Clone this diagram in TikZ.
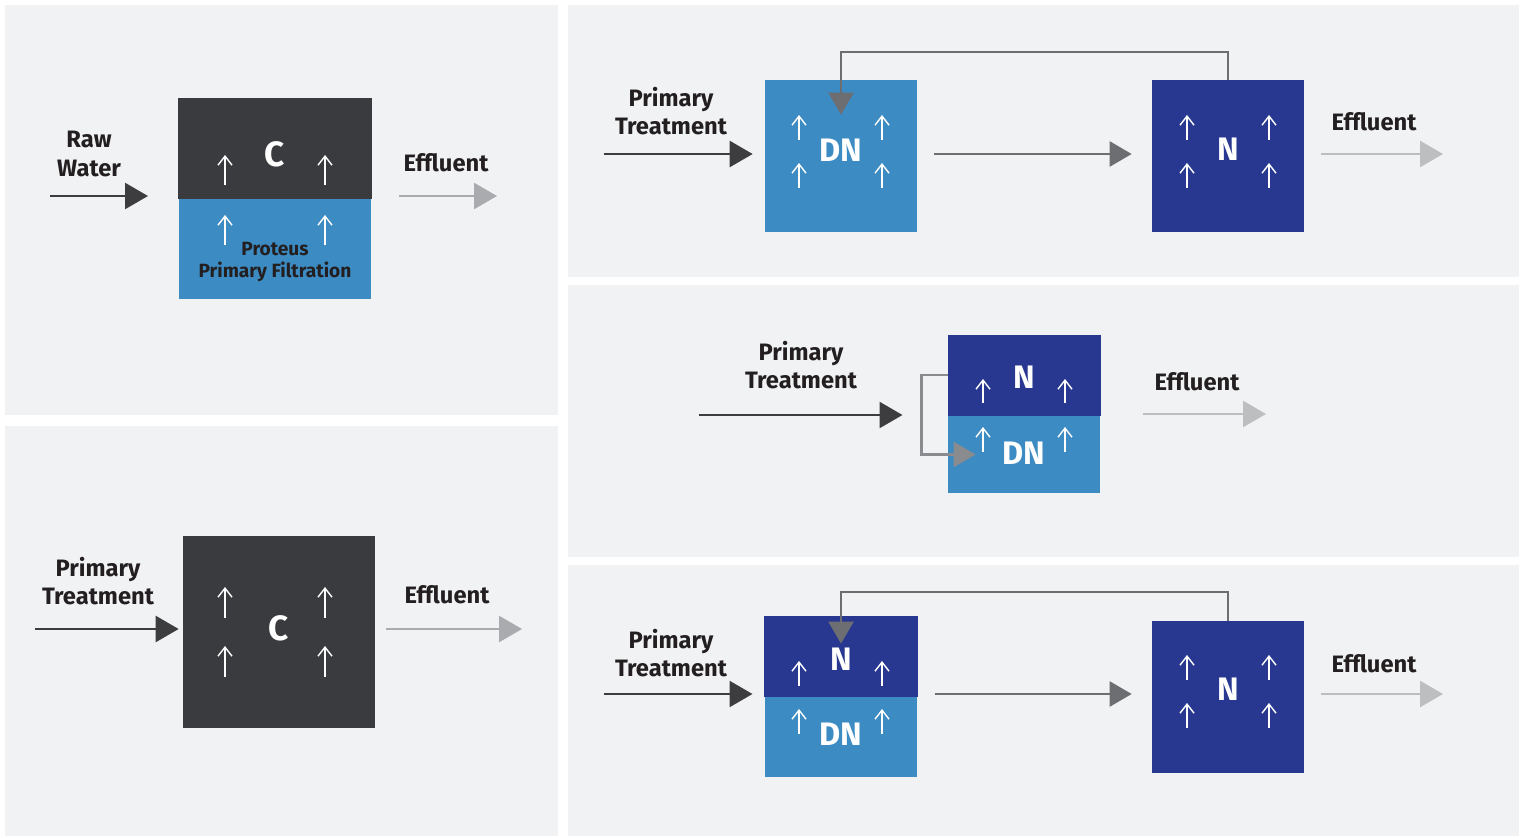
\documentclass[tikz,border=0pt]{standalone}
\usepackage{fontspec}
\setmainfont{Fira Sans}
\usepackage{xcolor}
\usetikzlibrary{arrows.meta, positioning, calc}

\definecolor{panelgray}{HTML}{F1F2F4}
\definecolor{carbon}{HTML}{3A3B3E}
\definecolor{steelblue}{HTML}{3C8BC3}
\definecolor{navyblue}{HTML}{283890}
\definecolor{inkgray}{HTML}{3D3D3F}
\definecolor{midgray}{HTML}{6D6E71}
\definecolor{softgray}{HTML}{8A8B8E}
\definecolor{palegray}{HTML}{BCBEC0}
\definecolor{ashgray}{HTML}{A9ABAE}
\definecolor{textblack}{HTML}{231F20}

\begin{document}
\begin{tikzpicture}[
                x=0.02cm, y=-0.02cm,
                panel/.style={fill=panelgray},
                tank/.style={rectangle, inner sep=0pt, minimum width=3.04cm, minimum height=3.04cm},
                halftank/.style={rectangle, inner sep=0pt, minimum width=3.04cm},
                seam/.style={fill=#1, draw=#1, line width=0.6pt},
                tag/.style={text=white, font=\fontsize{18.5}{20}\selectfont\bfseries},
                caption/.style={align=center, text=textblack, font=\fontsize{13.5}{16}\selectfont\bfseries},
                feed/.style={draw=inkgray, line width=1.4pt, -{Triangle[length=4.6mm, width=5.2mm]}},
                transfer/.style={draw=midgray, line width=1.4pt, -{Triangle[length=4.4mm, width=5mm]}},
                recycle/.style={draw=midgray, line width=1.3pt, -{Triangle[length=4.4mm, width=5mm]}},
                outlet/.style={draw=palegray, line width=1.4pt, -{Triangle[length=4.6mm, width=5.2mm]}},
                riser/.style={draw=white, line width=0.8pt, -{Straight Barb[length=1.8mm, width=2.8mm]}}
            ]
                \useasboundingbox (0,0) rectangle (1524,838);

                % Panels
                \fill[panel] (5,5) rectangle (558,415);
                \fill[panel] (5,426) rectangle (558,836);
                \fill[panel] (568,5) rectangle (1519,277);
                \fill[panel] (568,285) rectangle (1519,557);
                \fill[panel] (568,565) rectangle (1519,836);

                % Nodes: carbon with primary filtration
                \node[halftank, fill=steelblue, minimum width=3.84cm, minimum height=2cm] (pf) at (275,249) {};
                \node[halftank, seam=carbon, minimum width=3.84cm, minimum height=2cm, above=0pt of pf] (ca) {};
                \node[tag, font=\fontsize{20}{22}\selectfont\bfseries] (ca-txt) at (275,154) {C};
                \node[align=center, text=textblack, font=\fontsize{10.9}{13}\selectfont\bfseries] (pf-txt) at (275,262) {Proteus\\Primary Filtration};
                \node[caption] (raw) at (89,154) {Raw\\Water};
                \node[caption] (eff1) at (446,163) {Effluent};
                \coordinate (raw-in) at (50,196);
                \coordinate (raw-end) at (148,196);
                \coordinate (eff1-in) at (399,196);
                \coordinate (eff1-end) at (497,196);

                % Nodes: carbon only
                \node[tank, fill=carbon, minimum width=3.84cm, minimum height=3.84cm] (cb) at (279,632) {};
                \node[tag, font=\fontsize{20}{22}\selectfont\bfseries] (cb-txt) at (279,628) {C};
                \node[caption] (pt2) at (98,581) {Primary\\Treatment};
                \node[caption] (eff2) at (447,595) {Effluent};
                \coordinate (pt2-in) at (35,629);
                \coordinate (eff2-end) at (522,629);

                % Nodes: DN then N with recycle
                \node[tank, fill=steelblue] (dn1) at (841,156) {};
                \node[tank, fill=navyblue] (n1) at (1228,156) {};
                \node[tag] (dn1-txt) at (841,150) {DN};
                \node[tag] (n1-txt) at (1228,149) {N};
                \node[caption] (pt1) at (671,111) {Primary\\Treatment};
                \node[caption] (eff3) at (1374,122) {Effluent};
                \coordinate (pt1-in) at (604,154);
                \coordinate (eff3-end) at (1443,154);

                % Nodes: stacked N over DN
                \node[halftank, fill=steelblue, minimum height=1.54cm] (dnm) at (1024,454.5) {};
                \node[halftank, seam=navyblue, minimum height=1.6cm, above=0pt of dnm] (nm) {};
                \node[tag] (nm-txt) at (1024,377) {N};
                \node[tag] (dnm-txt) at (1024,453) {DN};
                \node[caption] (pt3) at (801,365) {Primary\\Treatment};
                \node[caption] (eff4) at (1197,382) {Effluent};
                \coordinate (pt3-in) at (699,415);
                \coordinate (eff4-in) at (1143,414);
                \coordinate (eff4-end) at (1266,414);

                % Nodes: stacked N over DN, then N with recycle
                \node[halftank, fill=steelblue, minimum height=1.6cm] (dnb) at (841,737) {};
                \node[halftank, seam=navyblue, minimum height=1.6cm, above=0pt of dnb] (nb) {};
                \node[tank, fill=navyblue] (n2) at (1228,697) {};
                \node[tag] (nb-txt) at (841,659) {N};
                \node[tag] (dnb-txt) at (841,734) {DN};
                \node[tag] (n2-txt) at (1228,689) {N};
                \node[caption] (pt4) at (671,653) {Primary\\Treatment};
                \node[caption] (eff5) at (1374,664) {Effluent};
                \coordinate (pt4-in) at (604,694);
                \coordinate (eff5-end) at (1443,694);

                % Risers
                \foreach \x/\y/\l in {225/185/30, 325/185/30, 225/245/30, 325/245/30,
                                      225/618/31, 325/618/31, 225/677/31, 325/677/31,
                                      799/140/25, 882/140/25, 799/188/25, 882/188/25,
                                      1187/140/25, 1269/140/25, 1187/188/25, 1269/188/25,
                                      983/403/24, 1065/403/24, 983/452/25, 1065/452/25,
                                      799/686/25, 882/686/25, 799/734/25, 882/734/25,
                                      1187/680/25, 1269/680/25, 1187/728/25, 1269/728/25}
                    \draw[riser] (\x,\y) -- ++(0,-\l);

                % Edges
                \draw[feed] (raw-in) -- (raw-end);
                \draw[outlet, draw=ashgray] (eff1-in) -- (eff1-end);

                \draw[feed, shorten >=0.08cm] (pt2-in) -- (pt2-in -| cb.west);
                \draw[outlet, draw=ashgray, shorten <=0.22cm] (eff2-end -| cb.east) -- (eff2-end);

                \draw[feed, shorten >=0.24cm] (pt1-in) -- (pt1-in -| dn1.west);
                \draw[transfer, shorten <=0.34cm, shorten >=0.4cm] (pt1-in -| dn1.east) -- (pt1-in -| n1.west);
                \draw[recycle] (n1.north) -- ++(0,-28) -| ($(dn1.north)+(0,35)$);
                \draw[outlet, shorten <=0.34cm] (eff3-end -| n1.east) -- (eff3-end);

                \draw[feed, shorten >=0.9cm] (pt3-in) -- (pt3-in -| nm.west);
                \draw[recycle, draw=softgray] (nm.west) -- ++(-26,0) |- ($(dnm.west)+(28,0)$);
                \draw[outlet] (eff4-in) -- (eff4-end);

                \draw[feed, shorten >=0.24cm] (pt4-in) -- (pt4-in -| nb.west);
                \draw[transfer, shorten <=0.34cm, shorten >=0.4cm] (pt4-in -| nb.east) -- (pt4-in -| n2.west);
                \draw[recycle] (n2.north) -- ++(0,-29) -| ($(nb.north)+(0,28)$);
                \draw[outlet, shorten <=0.34cm] (eff5-end -| n2.east) -- (eff5-end);
            \end{tikzpicture}
\end{document}
